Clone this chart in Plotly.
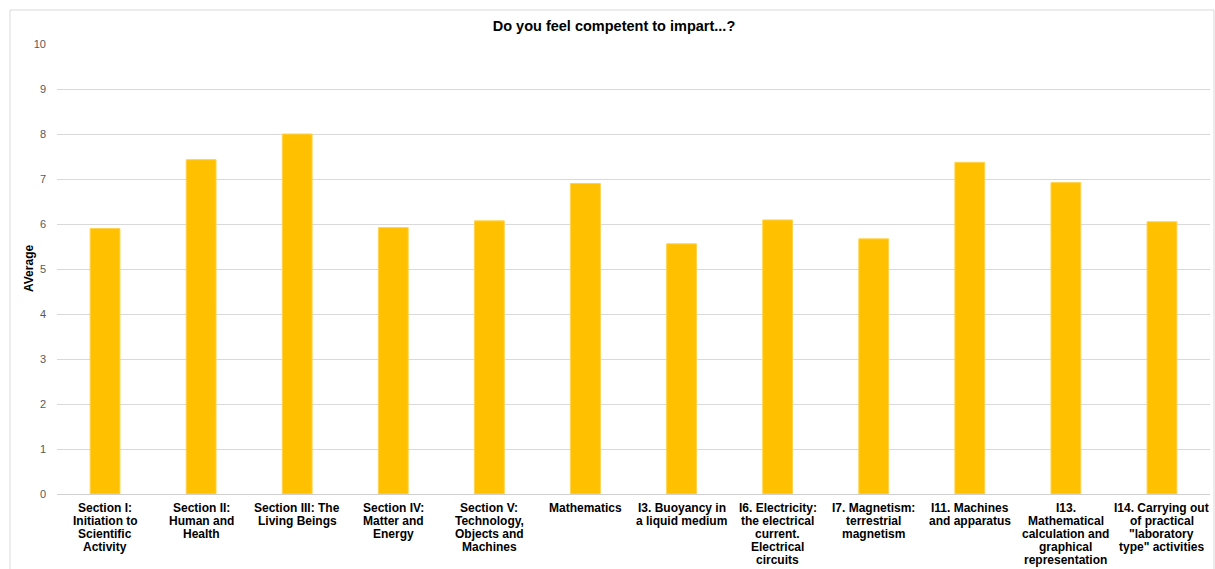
import plotly.graph_objects as go

categories = [
    "Section I:<br>Initiation to<br>Scientific<br>Activity",
    "Section II:<br>Human and<br>Health",
    "Section III: The<br>Living Beings",
    "Section IV:<br>Matter and<br>Energy",
    "Section V:<br>Technology,<br>Objects and<br>Machines",
    "Mathematics",
    "I3. Buoyancy in<br>a liquid medium",
    "I6. Electricity:<br>the electrical<br>current.<br>Electrical<br>circuits",
    "I7. Magnetism:<br>terrestrial<br>magnetism",
    "I11. Machines<br>and apparatus",
    "I13.<br>Mathematical<br>calculation and<br>graphical<br>representation",
    "I14. Carrying out<br>of practical<br>\"laboratory<br>type\" activities",
]
averages = [5.90, 7.43, 8.00, 5.92, 6.07, 6.90, 5.56, 6.09, 5.67, 7.37, 6.92, 6.05]
y_ticks = list(range(0, 11))

W, H = 1215, 569
ml, mr, mt, mb = 57, 5, 44, 75
pw, ph = W - ml - mr, H - mt - mb

FONT = "Liberation Sans, Arial, sans-serif"
LINE_GAP = 13  # px between wrapped category label lines

fig = go.Figure(
    go.Bar(
        x=list(range(len(categories))),
        y=averages,
        marker=dict(color="#FFC000", line=dict(color="#FFD24D", width=1)),
        width=0.31,
    )
)

fig.update_layout(
    width=W,
    height=H,
    margin=dict(l=ml, r=mr, t=mt, b=mb),
    paper_bgcolor="white",
    plot_bgcolor="white",
    font=dict(family=FONT, color="#000"),
    title=dict(
        text="<b>Do you feel competent to impart...?</b>",
        x=(614 - ml) / pw * pw / W + ml / W,
        xanchor="center",
        y=1 - 26 / H,
        yanchor="middle",
        font=dict(size=14.5, color="#000"),
    ),
    showlegend=False,
    xaxis=dict(
        range=[-0.5, len(categories) - 0.5],
        showticklabels=False,
        showline=True,
        linecolor="#d0d0d0",
        linewidth=1,
        ticks="",
        showgrid=False,
        zeroline=False,
        automargin=False,
    ),
    yaxis=dict(
        range=[0, 10],
        tickvals=y_ticks,
        tickfont=dict(size=11, color="#595959"),
        gridcolor="#d9d9d9",
        gridwidth=1,
        showline=False,
        zeroline=False,
        ticks="",
        ticklabelstandoff=10,
        automargin=False,
    ),
)

# y-axis title placed next to the tick labels
fig.add_annotation(
    x=(29 - ml) / pw,
    xref="paper",
    y=0.5,
    yref="paper",
    text="<b>AVerage</b>",
    textangle=-90,
    showarrow=False,
    xanchor="center",
    yanchor="middle",
    font=dict(size=12, color="#000", family=FONT),
)

# category labels, one line per annotation so the line spacing stays tight
for i, label in enumerate(categories):
    for j, line in enumerate(label.split("<br>")):
        fig.add_annotation(
            x=i,
            xref="x",
            y=0,
            yref="paper",
            text=f"<b>{line}</b>",
            showarrow=False,
            xanchor="center",
            yanchor="middle",
            yshift=-(14 + LINE_GAP * j),
            font=dict(size=12, color="#000", family=FONT),
        )

# light outer frame around the chart area
fig.add_shape(
    type="rect",
    xref="paper",
    yref="paper",
    x0=(10 - ml) / pw,
    x1=(W - 1 - ml) / pw,
    y0=(H - (H + 5) - mb) / ph,
    y1=(H - 10 - mb) / ph,
    line=dict(color="#d9d9d9", width=1),
    fillcolor="rgba(0,0,0,0)",
    layer="below",
)

fig.write_html("out.html")
